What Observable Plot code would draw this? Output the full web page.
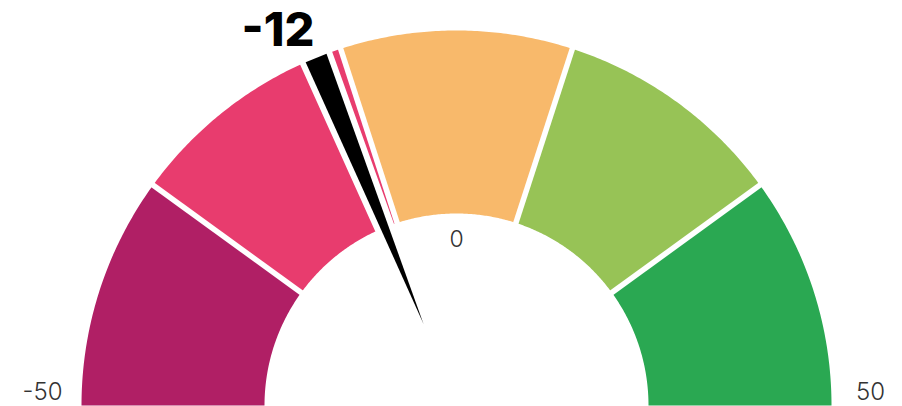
<!DOCTYPE html>
<html>
<head>
<meta charset="utf-8">
<script src="https://cdn.jsdelivr.net/npm/d3@7"></script>
<script src="https://cdn.jsdelivr.net/npm/@observablehq/plot@0.6"></script>
<style>
  html, body { margin: 0; padding: 0; background: #fff; }
  #chart svg { display: block; overflow: visible; }
</style>
</head>
<body>
<div id="chart"></div>
<script>
// ---- data ----
const gaugeMin = -50;
const gaugeMax = 50;
const bandStarts = [-50, -30, -10, 10, 30];
const bandEnds   = [-30, -10, 10, 30, 50];
const bandColors = ["#b01f65", "#e83c6e", "#f8b96b", "#97c356", "#2aa852"];
const needleValue = -12;
const needleLabel = "-12";
const endTicks = [-50, 50];
const centerTicks = [0];

// ---- geometry helpers (unit circle space, outer radius = 1) ----
const W = 902, H = 406;
const cx = 456, cy = 405, R = 375;
const rIn = 192 / R;
const theta = v => Math.PI * (1 - (v - gaugeMin) / (gaugeMax - gaugeMin));
const pt = (v, r) => [r * Math.cos(theta(v)), r * Math.sin(theta(v))];
const ptA = (a, r) => [r * Math.cos(a), r * Math.sin(a)];

const bandPolys = [];
bandStarts.forEach((s, i) => {
  const e = bandEnds[i];
  const n = 80;
  for (let k = 0; k <= n; k++) {
    const [x, y] = pt(s + (e - s) * k / n, 1);
    bandPolys.push({band: i, x, y});
  }
  for (let k = n; k >= 0; k--) {
    const [x, y] = pt(s + (e - s) * k / n, rIn);
    bandPolys.push({band: i, x, y});
  }
});

const boundaries = bandStarts.slice(1);
const gapLinks = boundaries.map(v => {
  const [x1, y1] = pt(v, rIn - 0.02);
  const [x2, y2] = pt(v, 1.02);
  return {x1, y1, x2, y2};
});

const tipR = 88 / R;
const halfA = 1.72 * Math.PI / 180;
const a0 = theta(needleValue) + 0.4 * Math.PI / 180;
const needle = [ptA(a0, tipR), ptA(a0 - halfA, 1), ptA(a0 + halfA, 1)].map(([x, y]) => ({x, y}));

const endLabelR = 414 / R;
const endLabels = endTicks.map(v => ({v, x: Math.cos(theta(v)) * endLabelR, y: 12.7 / R}));
const centerLabels = centerTicks.map(v => { const [x, y] = pt(v, 166 / R); return {v, x, y}; });
const needleEnd = pt(needleValue, 1);

const chart = Plot.plot({
  width: W,
  height: H,
  margin: 0,
  x: {domain: [-cx / R, (W - cx) / R], axis: null},
  y: {domain: [-(H - cy) / R, cy / R], axis: null},
  color: {domain: d3.range(bandColors.length), range: bandColors},
  marks: [
    Plot.line(bandPolys, {x: "x", y: "y", z: "band", fill: "band", stroke: null, curve: "linear-closed"}),
    Plot.link(gapLinks, {x1: "x1", y1: "y1", x2: "x2", y2: "y2", stroke: "white", strokeWidth: 5.5}),
    Plot.line(needle, {x: "x", y: "y", fill: "black", stroke: "white", strokeWidth: 12, paintOrder: "stroke", strokeLinejoin: "round", curve: "linear-closed"}),
    Plot.text([needleEnd], {x: d => d[0], y: d => d[1], text: () => needleLabel, textAnchor: "end", dx: -4, dy: -26,
      fontSize: 47, fontWeight: 800, fontFamily: "Inter", fill: "black", ariaLabel: "needle-label"}),
    Plot.text(endLabels, {x: "x", y: "y", text: d => String(d.v), fontSize: 24, fontWeight: 300, fontFamily: "Inter", fill: "#333", textAnchor: "middle", ariaLabel: "end-labels"}),
    Plot.text(centerLabels, {x: "x", y: "y", text: d => String(d.v), fontSize: 23, fontWeight: 300, fontFamily: "Inter", fill: "#333", textAnchor: "middle"})
  ]
});
d3.select(chart).selectAll('g[aria-label="needle-label"] text').attr("letter-spacing", "-2px");
d3.select(chart).selectAll('g[aria-label="end-labels"] text').attr("letter-spacing", "1.2px");
document.getElementById("chart").appendChild(chart);
</script>
</body>
</html>
